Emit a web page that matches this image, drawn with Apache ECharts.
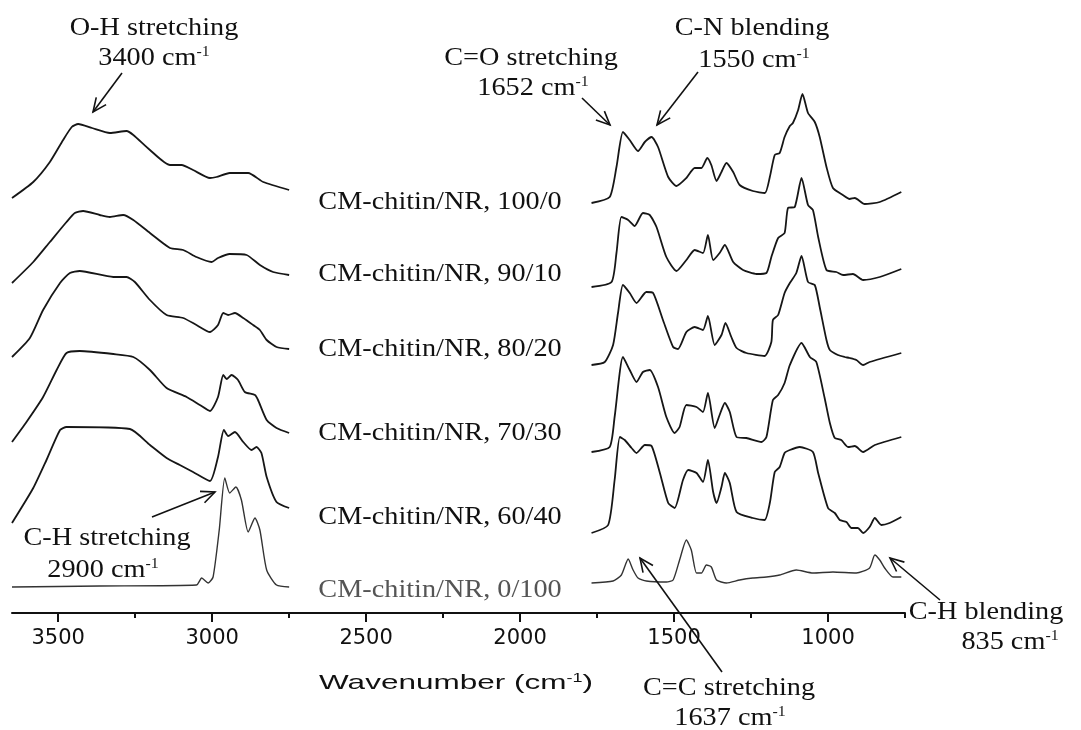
<!DOCTYPE html>
<html><head><meta charset="utf-8">
<script src="https://cdn.jsdelivr.net/npm/echarts@6/dist/echarts.min.js"></script>
<style>html,body{margin:0;padding:0;background:#fff}#c{width:1081px;height:730px}</style>
</head><body><div id="c"></div>
<script>
// ---- data (wavenumber cm-1, stacked absorbance in arbitrary units) ----
const sampleNames = ['CM-chitin/NR, 100/0','CM-chitin/NR, 90/10','CM-chitin/NR, 80/20','CM-chitin/NR, 70/30','CM-chitin/NR, 60/40','CM-chitin/NR, 0/100'];
const majorTicks = [3500,3000,2500,2000,1500,1000];
const minorTicks = [3250,2750,2250,1750,1250,750];

const s100_0_left = [[3650,415],[3581,431],[3527,451],[3484,473],[3456,486],[3435,489],[3390,485],[3332,480],[3278,482],[3256,478],[3202,463],[3137,448],[3099,448],[3062,443],[3007,435],[2986,436],[2943,440],[2883,440],[2834,431],[2750,423]];
const s100_0_right = [[1768,410],[1709,416],[1687,446],[1666,481],[1644,473],[1617,462],[1595,471],[1573,476],[1552,466],[1519,436],[1492,427],[1460,435],[1433,445],[1411,445],[1392,455],[1379,448],[1362,432],[1346,441],[1330,450],[1308,441],[1287,428],[1244,422],[1205,420],[1189,436],[1173,458],[1157,460],[1141,476],[1124,487],[1114,490],[1097,503],[1083,519],[1065,500],[1043,491],[1027,476],[1005,446],[984,425],[952,418],[930,414],[913,415],[881,409],[832,411],[762,421]];

const s90_10_left = [[3650,330],[3581,351],[3527,371],[3473,391],[3446,400],[3419,402],[3365,398],[3332,396],[3289,398],[3256,393],[3202,380],[3137,365],[3094,363],[3051,356],[3002,351],[2981,355],[2943,359],[2888,358],[2845,348],[2802,341],[2750,338]];
const s90_10_right = [[1768,326],[1703,331],[1687,360],[1671,396],[1649,393],[1628,387],[1601,400],[1579,398],[1557,386],[1525,356],[1492,342],[1460,353],[1433,363],[1406,360],[1390,378],[1373,353],[1352,360],[1335,368],[1308,351],[1276,343],[1232,339],[1200,340],[1184,356],[1162,375],[1141,380],[1130,405],[1108,406],[1086,435],[1065,408],[1049,403],[1032,376],[1005,343],[973,341],[951,338],[919,339],[886,333],[832,336],[762,344]];

const s80_20_left = [[3650,256],[3592,275],[3549,303],[3494,330],[3462,340],[3430,342],[3321,336],[3278,336],[3251,331],[3202,313],[3148,298],[3094,295],[3051,288],[3007,281],[2981,288],[2964,300],[2948,298],[2926,300],[2899,295],[2867,288],[2845,283],[2823,273],[2791,266],[2750,264]];
const s80_20_right = [[1768,248],[1725,251],[1698,268],[1682,300],[1666,328],[1644,320],[1622,310],[1590,321],[1568,320],[1536,293],[1503,266],[1487,264],[1460,281],[1433,286],[1406,283],[1390,297],[1368,268],[1346,278],[1333,290],[1314,276],[1297,265],[1265,260],[1206,257],[1184,271],[1179,293],[1162,298],[1141,320],[1124,330],[1103,340],[1086,357],[1065,331],[1043,328],[1027,306],[1005,273],[994,263],[968,258],[946,256],[930,255],[908,253],[886,248],[865,251],[762,260]];

const s70_30_left = [[3650,171],[3603,191],[3549,216],[3505,243],[3473,260],[3430,262],[3321,259],[3256,256],[3202,243],[3148,225],[3083,216],[3040,208],[3007,202],[2981,216],[2964,238],[2953,234],[2937,238],[2916,233],[2894,221],[2861,218],[2851,213],[2823,193],[2791,185],[2750,180]];
const s70_30_right = [[1768,161],[1709,166],[1693,196],[1666,256],[1644,243],[1622,231],[1601,241],[1579,243],[1552,226],[1525,196],[1498,180],[1482,186],[1460,208],[1427,206],[1406,201],[1390,220],[1368,185],[1352,198],[1335,210],[1319,201],[1297,176],[1265,175],[1216,171],[1200,176],[1179,213],[1162,218],[1141,230],[1124,248],[1086,270],[1059,256],[1038,251],[1011,215],[994,190],[978,175],[957,173],[935,166],[913,167],[886,161],[848,168],[762,176]];

const s60_40_left = [[3650,90],[3581,125],[3538,153],[3494,183],[3473,186],[3267,184],[3202,168],[3148,155],[3105,148],[3062,141],[3007,132],[2981,156],[2962,183],[2948,177],[2926,181],[2899,171],[2872,163],[2856,166],[2840,160],[2823,136],[2791,111],[2750,105]];
const s60_40_right = [[1768,80],[1714,88],[1693,133],[1676,176],[1660,173],[1638,165],[1622,160],[1595,168],[1573,167],[1546,140],[1519,110],[1498,105],[1471,133],[1454,143],[1427,140],[1406,131],[1390,153],[1373,121],[1362,110],[1346,126],[1335,140],[1319,130],[1297,101],[1244,95],[1206,93],[1189,110],[1173,141],[1157,146],[1141,160],[1124,163],[1092,166],[1049,161],[1032,140],[1000,105],[978,100],[962,93],[940,91],[924,85],[903,85],[886,80],[865,86],[848,95],[827,88],[800,90],[762,96]];

const s0_100_left = [[3650,26],[3365,27],[3051,28],[3034,35],[3013,30],[2997,36],[2977,83],[2959,135],[2943,120],[2923,126],[2905,113],[2883,81],[2861,95],[2845,83],[2823,43],[2791,28],[2750,26]];
const s0_100_right = [[1768,30],[1698,32],[1671,38],[1649,54],[1633,43],[1617,35],[1590,32],[1525,31],[1503,33],[1482,53],[1460,73],[1444,63],[1427,40],[1411,40],[1395,48],[1379,46],[1362,33],[1330,30],[1287,33],[1244,35],[1200,36],[1157,38],[1103,43],[1049,40],[984,41],[908,40],[865,45],[848,58],[832,53],[816,45],[789,36],[762,36]];

const spectraLeft = [s100_0_left, s90_10_left, s80_20_left, s70_30_left, s60_40_left, s0_100_left];
const spectraRight = [s100_0_right, s90_10_right, s80_20_right, s70_30_right, s60_40_right, s0_100_right];

// ---- layout / style ----
const SERIF = 'Liberation Serif';
const SANS = 'Liberation Sans';
const SX = 1.13;
const INK = '#111';
const sampleLabelX = 440;
const sampleLabelY = [202, 274, 349, 433, 517, 590];

function label(x, y, text, opt) {
  opt = opt || {};
  const col = opt.color || INK;
  const fam = opt.font || SERIF;
  const size = opt.size || 25;
  return {
    type: 'text', x: x, y: y, scaleX: opt.sx || SX, z: 10, silent: true,
    style: {
      text: text, fill: col, fontFamily: fam, fontSize: size, fontWeight: opt.weight || 'normal',
      align: 'center', verticalAlign: 'middle', textAlign: 'center', textVerticalAlign: 'middle',
      rich: { s: { fontSize: Math.round(size * 0.58), fontFamily: fam, fill: col, verticalAlign: 'top' } }
    }
  };
}
function arrow(sx, sy, ex, ey) {
  const a = Math.atan2(ey - sy, ex - sx), L = 15, w = 0.42;
  const p1 = [ex - L * Math.cos(a - w), ey - L * Math.sin(a - w)];
  const p2 = [ex - L * Math.cos(a + w), ey - L * Math.sin(a + w)];
  const st = { stroke: INK, lineWidth: 1.6, fill: null };
  return [
    { type: 'polyline', z: 10, silent: true, shape: { points: [[sx, sy], [ex, ey]] }, style: st },
    { type: 'polyline', z: 10, silent: true, shape: { points: [p1, [ex, ey], p2] }, style: st }
  ];
}

const graphics = [
  label(154, 28, 'O-H stretching'), label(154, 58, '3400 cm{s|-1}'),
  label(531, 58, 'C=O stretching'), label(533, 88, '1652 cm{s|-1}'),
  label(752, 28, 'C-N blending'), label(754, 60, '1550 cm{s|-1}'),
  label(107, 538, 'C-H stretching'), label(103, 570, '2900 cm{s|-1}'),
  label(986, 612, 'C-H blending'), label(1010, 642, '835 cm{s|-1}'),
  label(729, 688, 'C=C stretching'), label(730, 718, '1637 cm{s|-1}'),
  label(456, 683, 'Wavenumber (cm{s|-1})', { font: SANS, size: 21, sx: 1.5, weight: 500 })
].concat(
  arrow(122, 73, 93, 112),
  arrow(582, 98, 610, 125),
  arrow(698, 72, 657, 125),
  arrow(152, 517, 215, 492),
  arrow(940, 600, 890, 558),
  arrow(722, 672, 640, 558)
);
sampleNames.forEach(function (n, i) {
  graphics.push(label(sampleLabelX, sampleLabelY[i], n, { color: i === 5 ? '#555' : INK }));
});

const series = sampleNames.map(function (n, i) {
  return {
    name: n, type: 'line', symbol: 'none', showSymbol: false, smooth: 0.2,
    connectNulls: false, silent: true, animation: false,
    data: spectraLeft[i].concat([[2300, null]], spectraRight[i]),
    lineStyle: { color: i === 5 ? '#333' : '#161616', width: i === 5 ? 1.4 : 1.8 }
  };
});

const chart = echarts.init(document.getElementById('c'));
chart.setOption({
  backgroundColor: '#fff',
  animation: false,
  grid: { left: 12, right: 176, top: 13, bottom: 117, containLabel: false },
  xAxis: [{
    type: 'value', min: 750, max: 3650, inverse: true, position: 'bottom',
    axisLine: { show: true, onZero: false, lineStyle: { color: INK, width: 2 } },
    axisTick: { show: true, customValues: majorTicks, length: 9, lineStyle: { color: INK, width: 2 } },
    axisLabel: { show: true, customValues: majorTicks, fontFamily: 'DejaVu Sans', fontSize: 21, color: INK, margin: 15,
      formatter: function (v) { return String(v); } },
    splitLine: { show: false }
  }, {
    type: 'value', min: 750, max: 3650, inverse: true, position: 'bottom', gridIndex: 0,
    axisLine: { show: false },
    axisTick: { show: true, customValues: minorTicks, length: 5, lineStyle: { color: INK, width: 2 } },
    axisLabel: { show: false },
    splitLine: { show: false }
  }],
  yAxis: { type: 'value', min: 0, max: 600, show: false },
  series: series,
  graphic: graphics
});
</script>
</body></html>
